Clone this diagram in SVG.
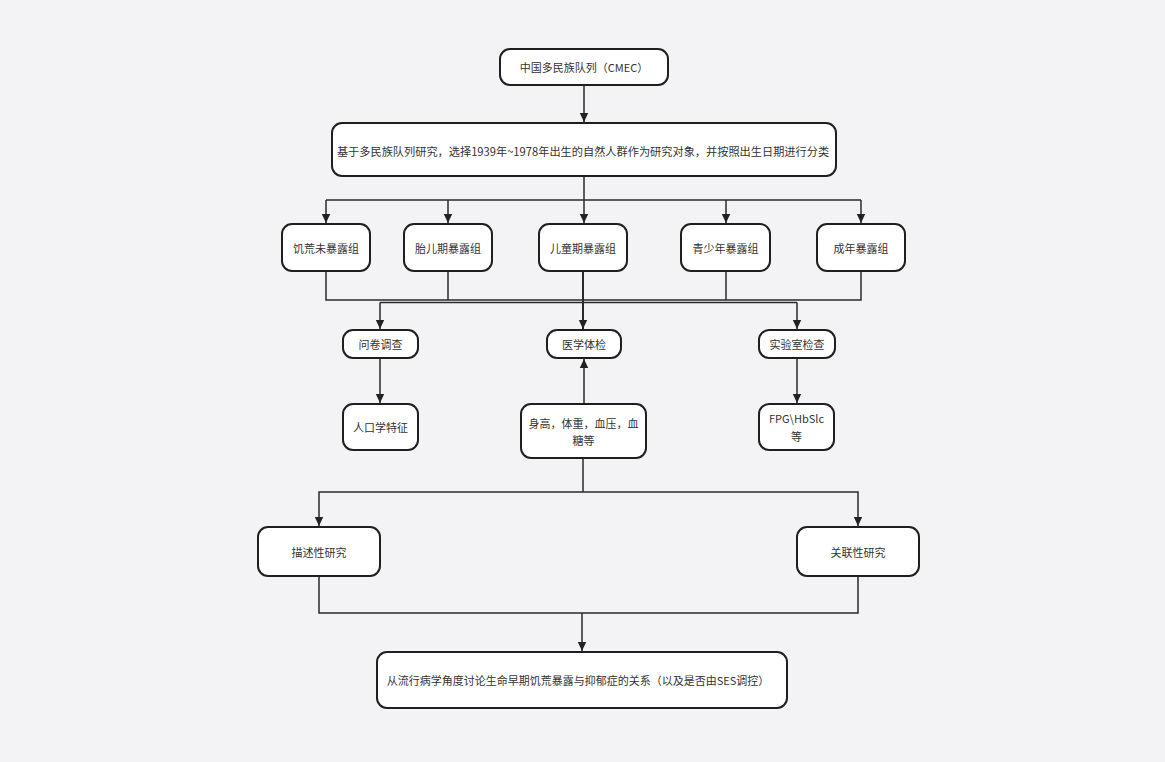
<svg xmlns="http://www.w3.org/2000/svg" width="1165" height="762" viewBox="0 0 1165 762">
<defs>
<marker id="arr" markerUnits="userSpaceOnUse" markerWidth="10" markerHeight="10" refX="9" refY="5" orient="auto">
<path d="M0,0.8 L9,5 L0,9.2 z" fill="#222"/>
</marker>
<style>
.n{fill:#fff;stroke:#1f1f1f;stroke-width:2}
.t{font-family:"Noto Sans CJK SC","Noto Sans",sans-serif;font-size:11px;fill:#333;text-anchor:middle;dominant-baseline:central}
.c{fill:none;stroke:#2a2a2a;stroke-width:1.5}
.a{marker-end:url(#arr)}
</style>
</defs>
<rect width="1165" height="762" fill="#f3f3f5"/>
<g id="connectors">
<path class="c a" d="M584,85 V122"/>
<path class="c" d="M584,176 V200"/>
<path class="c" d="M326,200 H861"/>
<path class="c a" d="M326,200 V223"/>
<path class="c a" d="M448,200 V223"/>
<path class="c a" d="M584,200 V223"/>
<path class="c a" d="M726,200 V223"/>
<path class="c a" d="M861,200 V223"/>
<path class="c" d="M326,271 V300 H861 V271"/>
<path class="c" d="M448,271 V300"/>
<path class="c" d="M726,271 V300"/>
<path class="c a" style="stroke-width:2" d="M583,271 V329"/>
<path class="c" d="M380,302.5 H797"/>
<path class="c a" d="M380,302.5 V329"/>
<path class="c a" d="M797,302.5 V329"/>
<path class="c a" d="M380,358 V403"/>
<path class="c a" d="M797,358 V403"/>
<path class="c a" d="M584,404 V359"/>
<path class="c" d="M583,458 V492"/>
<path class="c a" d="M583,492 H319 V526"/>
<path class="c a" d="M583,492 H858 V526"/>
<path class="c" d="M319,576 V613 H858 V576"/>
<path class="c a" d="M582,613 V651"/>
</g>
<g id="n1"><rect class="n" x="500" y="49" width="168" height="36" rx="10"/><text class="t" x="584" y="67">中国多民族队列（CMEC）</text></g>
<g id="n2"><rect class="n" x="332" y="123" width="504" height="53" rx="10"/><text class="t" x="583" y="150.5" style="font-size:11.2px">基于多民族队列研究，选择1939年~1978年出生的自然人群作为研究对象，并按照出生日期进行分类</text></g>
<g id="g1"><rect class="n" x="282" y="224" width="88" height="47" rx="10"/><text class="t" x="326" y="247.5">饥荒未暴露组</text></g>
<g id="g2"><rect class="n" x="404" y="224" width="88" height="47" rx="10"/><text class="t" x="448" y="247.5">胎儿期暴露组</text></g>
<g id="g3"><rect class="n" x="539" y="224" width="88" height="47" rx="10"/><text class="t" x="583" y="247.5">儿童期暴露组</text></g>
<g id="g4"><rect class="n" x="681" y="224" width="89" height="47" rx="10"/><text class="t" x="725.5" y="247.5">青少年暴露组</text></g>
<g id="g5"><rect class="n" x="817" y="224" width="88" height="47" rx="10"/><text class="t" x="861" y="247.5">成年暴露组</text></g>
<g id="m1"><rect class="n" x="343" y="330" width="75" height="28" rx="10"/><text class="t" x="380.5" y="344">问卷调查</text></g>
<g id="m2"><rect class="n" x="547" y="330" width="74" height="28" rx="10"/><text class="t" x="584" y="344">医学体检</text></g>
<g id="m3"><rect class="n" x="759" y="330" width="76" height="28" rx="10"/><text class="t" x="797" y="344">实验室检查</text></g>
<g id="d1"><rect class="n" x="343" y="404" width="75" height="46" rx="10"/><text class="t" x="380.5" y="427">人口学特征</text></g>
<g id="d2"><rect class="n" x="521" y="404" width="125" height="54" rx="10"/><text class="t" x="583.5" y="423">身高，体重，血压，血</text><text class="t" x="583.5" y="440">糖等</text></g>
<g id="d3"><rect class="n" x="759" y="404" width="75" height="46" rx="10"/><text class="t" x="796.5" y="418">FPG\HbSlc</text><text class="t" x="796.5" y="436">等</text></g>
<g id="s1"><rect class="n" x="258" y="527" width="122" height="49" rx="10"/><text class="t" x="319" y="551.5">描述性研究</text></g>
<g id="s2"><rect class="n" x="797" y="527" width="122" height="49" rx="10"/><text class="t" x="858" y="551.5">关联性研究</text></g>
<g id="f"><rect class="n" x="377" y="652" width="410" height="56" rx="10"/><text class="t" x="578" y="680">从流行病学角度讨论生命早期饥荒暴露与抑郁症的关系（以及是否由SES调控）</text></g>
</svg>
